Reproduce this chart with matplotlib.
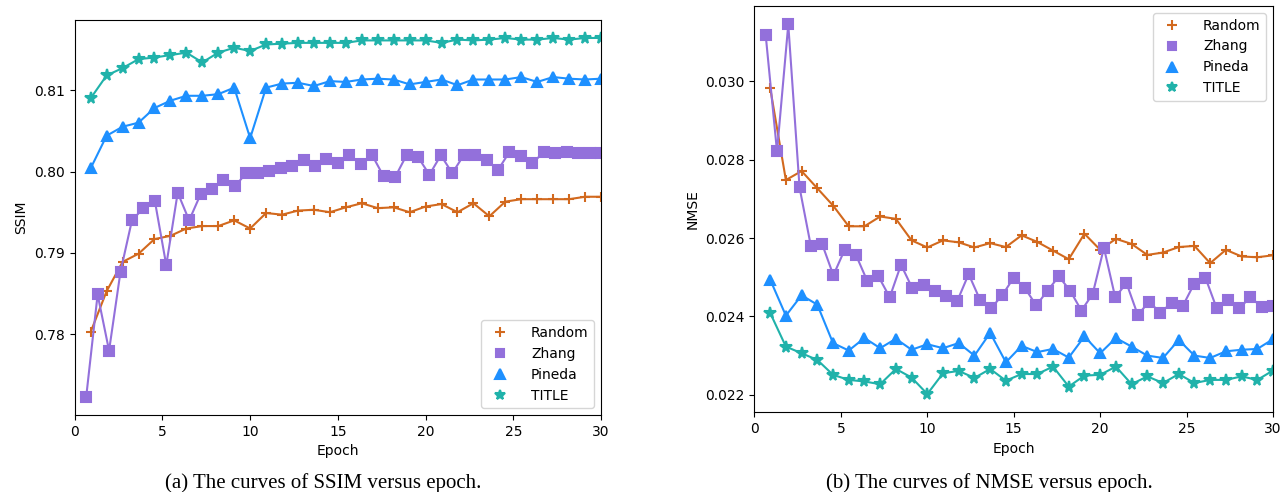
import matplotlib
matplotlib.use("Agg")
import matplotlib.pyplot as plt
from matplotlib.lines import Line2D
import numpy as np

# epochs: most methods logged 33 times, Zhang logged 46 times over 30 epochs
ep33 = np.arange(1, 34) * 30 / 33
ep46 = np.arange(1, 47) * 30 / 46

names = ["Random", "Zhang", "Pineda", "TITLE"]
colors = ["#D2691E", "#9370DB", "#1E90FF", "#20B2AA"]
markers = ["+", "s", "^", "*"]
msizes = [7.5, 7, 7.5, 8.5]

# SSIM curves (a)
ssim_random = [0.7803, 0.7853, 0.7889, 0.7899, 0.7917, 0.7921, 0.7930, 0.7933, 0.7933,
               0.7940, 0.7930, 0.7949, 0.7947, 0.7952, 0.7953, 0.7950, 0.7956, 0.7961,
               0.7955, 0.7956, 0.7950, 0.7957, 0.7960, 0.7950, 0.7961, 0.7945, 0.7963,
               0.7966, 0.7966, 0.7966, 0.7966, 0.7969, 0.7969]
ssim_zhang = [0.7723, 0.7849, 0.7780, 0.7877, 0.7940, 0.7955, 0.7964, 0.7885, 0.7974,
              0.7940, 0.7972, 0.7978, 0.7989, 0.7982, 0.7998, 0.7998, 0.8001, 0.8004,
              0.8007, 0.8014, 0.8007, 0.8015, 0.8011, 0.8020, 0.8009, 0.8020, 0.7994,
              0.7993, 0.8020, 0.8018, 0.7996, 0.8020, 0.7998, 0.8020, 0.8020, 0.8014,
              0.8002, 0.8024, 0.8019, 0.8010, 0.8024, 0.8023, 0.8024, 0.8023, 0.8023,
              0.8023]
ssim_pineda = [0.8004, 0.8044, 0.8055, 0.8060, 0.8078, 0.8087, 0.8093, 0.8093, 0.8095,
               0.8103, 0.8041, 0.8103, 0.8108, 0.8109, 0.8105, 0.8111, 0.8110, 0.8113,
               0.8114, 0.8113, 0.8107, 0.8110, 0.8113, 0.8106, 0.8113, 0.8113, 0.8113,
               0.8116, 0.8110, 0.8116, 0.8114, 0.8113, 0.8114]
ssim_title = [0.8090, 0.8118, 0.8127, 0.8138, 0.8140, 0.8143, 0.8146, 0.8134, 0.8146,
              0.8152, 0.8148, 0.8156, 0.8157, 0.8158, 0.8158, 0.8158, 0.8158, 0.8161,
              0.8161, 0.8161, 0.8161, 0.8161, 0.8158, 0.8162, 0.8161, 0.8162, 0.8164,
              0.8162, 0.8162, 0.8164, 0.8162, 0.8164, 0.8164]

# NMSE curves (b)
nmse_random = [0.02983, 0.02748, 0.02771, 0.02727, 0.02683, 0.02630, 0.02630, 0.02655,
               0.02649, 0.02594, 0.02576, 0.02594, 0.02589, 0.02576, 0.02587, 0.02577,
               0.02607, 0.02590, 0.02568, 0.02546, 0.02611, 0.02570, 0.02598, 0.02585,
               0.02557, 0.02563, 0.02577, 0.02580, 0.02536, 0.02570, 0.02553, 0.02551,
               0.02556]
nmse_zhang = [0.03117, 0.02821, 0.03145, 0.02729, 0.02580, 0.02585, 0.02505, 0.02570,
              0.02557, 0.02491, 0.02502, 0.02449, 0.02532, 0.02472, 0.02481, 0.02466,
              0.02451, 0.02440, 0.02508, 0.02443, 0.02421, 0.02455, 0.02499, 0.02472,
              0.02428, 0.02466, 0.02502, 0.02466, 0.02415, 0.02457, 0.02575, 0.02449,
              0.02485, 0.02404, 0.02437, 0.02410, 0.02434, 0.02427, 0.02483, 0.02499,
              0.02421, 0.02443, 0.02421, 0.02449, 0.02424, 0.02427]
nmse_pineda = [0.02494, 0.02402, 0.02454, 0.02430, 0.02332, 0.02313, 0.02345, 0.02319,
               0.02343, 0.02315, 0.02329, 0.02319, 0.02332, 0.02300, 0.02358, 0.02283,
               0.02325, 0.02309, 0.02317, 0.02295, 0.02349, 0.02306, 0.02345, 0.02323,
               0.02300, 0.02294, 0.02340, 0.02300, 0.02294, 0.02311, 0.02315, 0.02317,
               0.02342]
nmse_title = [0.02409, 0.02323, 0.02306, 0.02289, 0.02251, 0.02238, 0.02234, 0.02227,
              0.02266, 0.02244, 0.02202, 0.02255, 0.02261, 0.02243, 0.02266, 0.02236,
              0.02253, 0.02253, 0.02272, 0.02221, 0.02249, 0.02251, 0.02272, 0.02227,
              0.02247, 0.02230, 0.02253, 0.02230, 0.02238, 0.02238, 0.02247, 0.02238,
              0.02262]

xs = [ep33, ep46, ep33, ep33]
ssim = [ssim_random, ssim_zhang, ssim_pineda, ssim_title]
nmse = [nmse_random, nmse_zhang, nmse_pineda, nmse_title]

fig = plt.figure(figsize=(12.82, 4.92), dpi=100)
ax1 = fig.add_axes([0.0583, 0.1565, 0.4105, 0.8028])
ax2 = fig.add_axes([0.5885, 0.1616, 0.4045, 0.8262])


def draw(ax, ys, ylabel, loc):
    for x, y, c, m, s in zip(xs, ys, colors, markers, msizes):
        ax.plot(x, y, color=c, marker=m, markersize=s, markeredgewidth=1.5, linewidth=1.5)
    # legend shows markers only
    handles = [Line2D([], [], ls="none", color=c, marker=m, markersize=s - 1, markeredgewidth=1.5)
               for c, m, s in zip(colors, markers, msizes)]
    ax.legend(handles, names, loc=loc, fontsize=10, handletextpad=1.2)
    ax.set_xlim(0, 30)
    ax.set_xlabel("Epoch")
    ax.set_ylabel(ylabel)


draw(ax1, ssim, "SSIM", "lower right")
draw(ax2, nmse, "NMSE", "upper right")
ax1.set_yticks([0.78, 0.79, 0.80, 0.81])

fig.text(0.252, 0.008, "(a) The curves of SSIM versus epoch.", ha="center",
         family="Liberation Serif", fontsize=15)
fig.text(0.772, 0.008, "(b) The curves of NMSE versus epoch.", ha="center",
         family="Liberation Serif", fontsize=15)

fig.savefig("out.png", dpi=100)
